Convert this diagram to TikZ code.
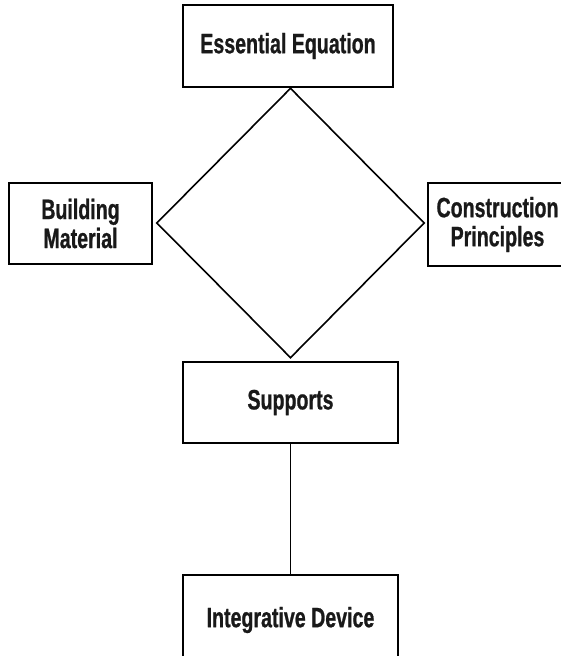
\documentclass[tikz,border=0pt]{standalone}
\usepackage{fontspec}
\setmainfont{Liberation Sans}[FakeStretch=0.72, BoldFeatures={FakeStretch=0.7, FakeBold=0.8}]
\usetikzlibrary{shapes.geometric}
\begin{document}
\begin{tikzpicture}[x=1pt,y=-1pt,
  box/.style={draw, line width=1.6pt, inner sep=0pt, align=center,
    font=\bfseries\fontsize{28}{29}\selectfont, text=black!90},
  dia/.style={draw, diamond, line width=1.6pt, inner sep=0pt, aspect=1},
  link/.style={line width=1.6pt}]
\useasboundingbox (0,0) rectangle (561,656);
\clip (0,0) rectangle (561,656);
\node[box, minimum width=210pt, minimum height=82pt] (eq) at (288,46) {Essential Equation};
\node[box, minimum width=143pt, minimum height=81pt] (bm) at (80.5,223.5) {Building\\Material};
\node[box, minimum width=139pt, minimum height=83pt] (cp) at (497.5,224.5) {Construction\\Principles};
\node[dia, minimum width=268pt, minimum height=270pt] (d) at (290.5,223) {};
\node[box, minimum width=215pt, minimum height=81pt] (sup) at (290.5,402.5) {Supports};
\node[box, minimum width=215pt, minimum height=90pt] (int) at (290.5,620) {Integrative Device};
\draw[link] (sup.south) -- (int.north);
\end{tikzpicture}
\end{document}
